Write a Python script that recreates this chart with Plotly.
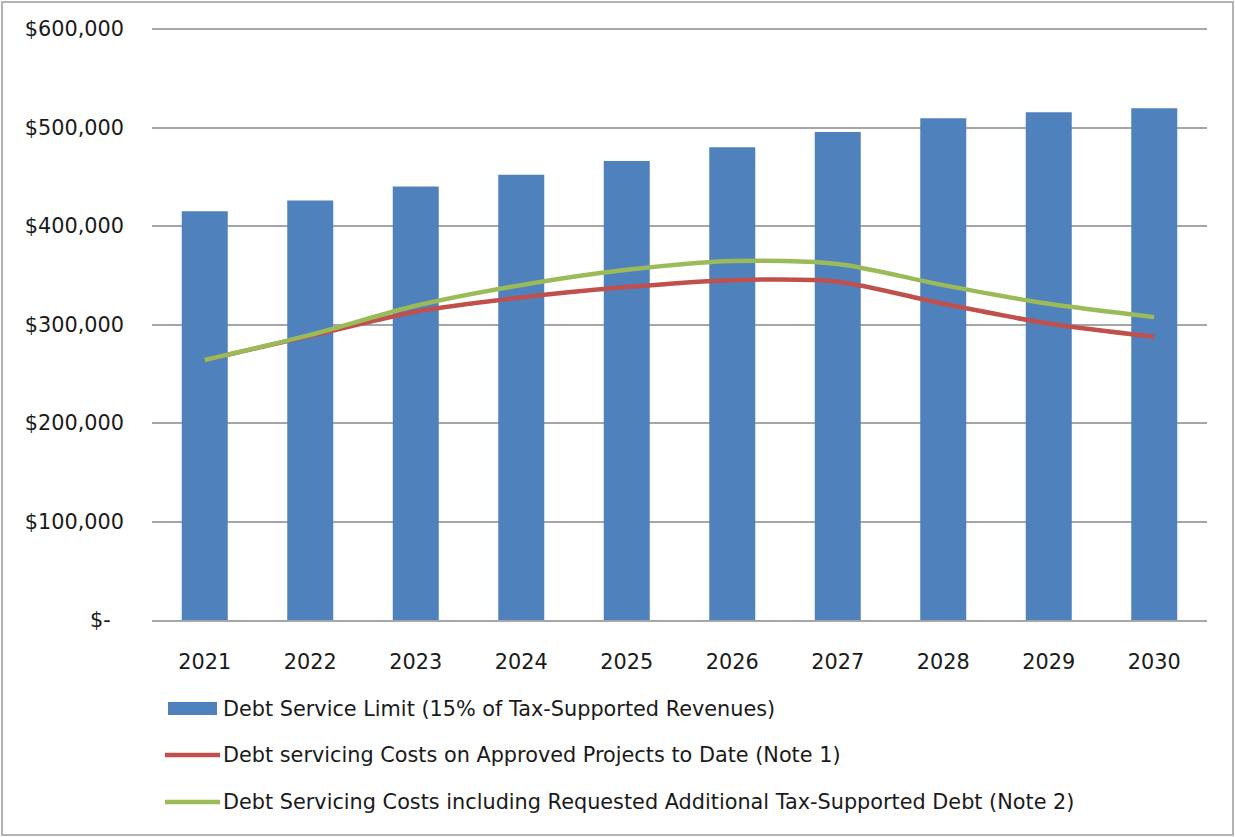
import plotly.graph_objects as go

# ---- data ----
years = ["2021", "2022", "2023", "2024", "2025", "2026", "2027", "2028", "2029", "2030"]
debt_service_limit = [415000, 426000, 440000, 452000, 466000, 480000, 495500, 509500, 515500, 519500]
approved_costs = [264000, 288500, 313000, 327500, 338000, 345000, 343500, 321000, 301000, 287500]
requested_costs = [264000, 289500, 319000, 340000, 355500, 364500, 361500, 340000, 321000, 307500]
series_names = [
    "Debt Service Limit (15% of Tax-Supported Revenues)",
    "Debt servicing Costs on Approved Projects to Date (Note 1)",
    "Debt Servicing Costs including Requested Additional Tax-Supported Debt (Note 2)",
]
y_tick_vals = [0, 100000, 200000, 300000, 400000, 500000, 600000]
y_tick_text = ["$-\u00a0\u00a0", "$100,000", "$200,000", "$300,000", "$400,000", "$500,000", "$600,000"]

# ---- style ----
BLUE = "#4F81BD"
RED = "#C0504D"
GREEN = "#9BBB59"
GRID = "#A6A6A6"
TEXT = "#1a1a1a"
FONT = "DejaVu Sans"
FS = 20.8

W, H = 1235, 837
L, R, T, B = 152, 28, 25, 217
PW, PH = W - L - R, H - T - B
SCALE_PX = 591  # pixels spanned by 0 .. 600,000
Y_MAX = 600000 * PH / SCALE_PX  # keeps the $600,000 grid line inside the plot area


def px(x):
    return (x - L) / PW


def py(y):
    return (H - B - y) / PH


fig = go.Figure()
fig.add_trace(go.Bar(x=years, y=debt_service_limit, name=series_names[0],
                     marker=dict(color=BLUE, line=dict(width=0)), showlegend=False))
fig.add_trace(go.Scatter(x=years, y=approved_costs, name=series_names[1], mode="lines",
                         line=dict(color=RED, width=4.5, shape="spline", smoothing=0.8),
                         showlegend=False))
fig.add_trace(go.Scatter(x=years, y=requested_costs, name=series_names[2], mode="lines",
                         line=dict(color=GREEN, width=4.5, shape="spline", smoothing=0.8),
                         showlegend=False))

shapes = []
annotations = []
# legend (manual, to mimic the wide swatches)
shapes.append(dict(type="rect", xref="paper", yref="paper",
                   x0=px(168), x1=px(217), y0=py(715), y1=py(702),
                   fillcolor=BLUE, line=dict(width=0)))
shapes.append(dict(type="line", xref="paper", yref="paper",
                   x0=px(165), x1=px(220), y0=py(755), y1=py(755),
                   line=dict(color=RED, width=4.5)))
shapes.append(dict(type="line", xref="paper", yref="paper",
                   x0=px(165), x1=px(220), y0=py(802), y1=py(802),
                   line=dict(color=GREEN, width=4.5)))
for name, yc in zip(series_names, [709, 755, 802]):
    annotations.append(dict(text=name, xref="paper", yref="paper", x=px(221), y=py(yc),
                            xanchor="left", yanchor="middle", showarrow=False,
                            font=dict(family=FONT, size=FS, color=TEXT)))
# outer chart border
shapes.append(dict(type="rect", xref="paper", yref="paper",
                   x0=px(2), x1=px(1233), y0=py(835), y1=py(2),
                   line=dict(color="#B4B4B4", width=2), fillcolor="rgba(0,0,0,0)", layer="below"))

fig.update_layout(
    width=W, height=H,
    margin=dict(l=L, r=R, t=T, b=B, pad=0),
    paper_bgcolor="white", plot_bgcolor="white",
    font=dict(family=FONT, size=FS, color=TEXT),
    bargap=0.564,
    shapes=shapes,
    annotations=annotations,
    showlegend=False,
    xaxis=dict(type="category", showgrid=False, showline=True, linecolor=GRID, linewidth=1.5,
               ticks="", ticklabelstandoff=22, tickfont=dict(family=FONT, size=FS, color=TEXT),
               fixedrange=True),
    yaxis=dict(range=[0, Y_MAX], tickvals=y_tick_vals, ticktext=y_tick_text,
               showgrid=True, gridcolor=GRID, gridwidth=1.5, zeroline=False,
               ticks="", ticklabelstandoff=27, tickfont=dict(family=FONT, size=FS, color=TEXT),
               fixedrange=True),
)

fig.write_html("out.html", post_script="document.body.style.margin='0';",
               config={"displayModeBar": False})
